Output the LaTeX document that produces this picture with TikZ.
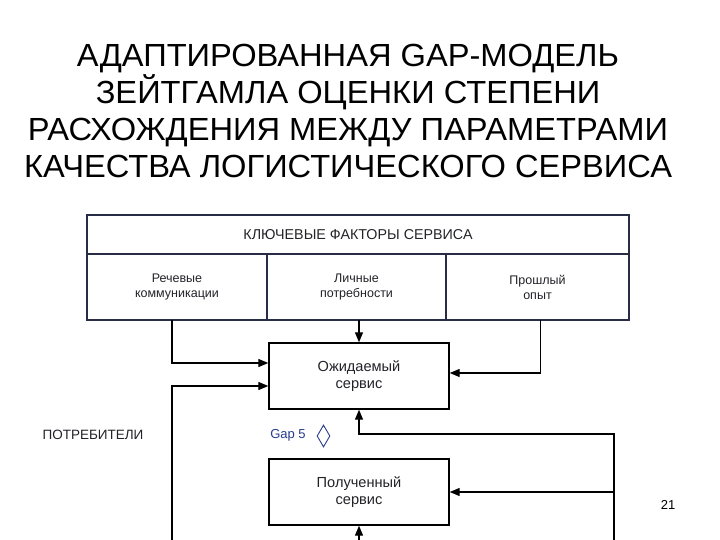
\documentclass[tikz,border=0pt]{standalone}
\usepackage{fontspec}
\setmainfont{Liberation Sans}
\newfontfamily\titlefont[FakeStretch=1.02]{Liberation Sans}
\usetikzlibrary{positioning,calc,arrows.meta,shapes.geometric}
\definecolor{inkgray}{RGB}{34,34,40}
\definecolor{tableblue}{RGB}{40,44,70}
\definecolor{gapblue}{RGB}{40,60,140}

\begin{document}
\begin{tikzpicture}[
            x=1pt, y=-1pt,
            every node/.style={text=inkgray},
            hdr/.style={rectangle, draw=tableblue, line width=1.2pt, minimum width=542pt,
                        minimum height=39pt, inner sep=0pt, outer sep=0pt,
                        font=\fontsize{14.3}{16}\selectfont},
            cell/.style={rectangle, draw=tableblue, line width=1.2pt, minimum height=66pt,
                         inner sep=0pt, outer sep=0pt, align=center,
                         font=\fontsize{12.5}{15}\selectfont},
            box/.style={rectangle, draw=black, line width=1.4pt, minimum width=180pt,
                        minimum height=66pt, inner sep=0pt, align=center,
                        font=\fontsize{14.6}{17}\selectfont},
            arrow/.style={-{Triangle[length=10pt,width=8pt]}, line width=1.3pt, draw=black}
        ]
            \useasboundingbox (0,0) rectangle (720,540);

            % Title
            \node[text=black, align=center, font=\titlefont\fontsize{32}{37}\selectfont]
                (title) at (348,110.5) {АДАПТИРОВАННАЯ GAP-МОДЕЛЬ\\ЗЕЙТГАМЛА ОЦЕНКИ СТЕПЕНИ\\
                РАСХОЖДЕНИЯ МЕЖДУ ПАРАМЕТРАМИ\\КАЧЕСТВА ЛОГИСТИЧЕСКОГО СЕРВИСА};

            % Key factors table
            \node[hdr] (factors) at (358,234.5) {КЛЮЧЕВЫЕ ФАКТОРЫ СЕРВИСА};
            \node[cell, minimum width=180pt, anchor=north west] (speech)
                at (factors.south west) {Речевые\\коммуникации};
            \node[cell, minimum width=179pt, anchor=north west] (needs)
                at (speech.north east) {Личные\\потребности};
            \node[cell, minimum width=183pt, anchor=north west] (past)
                at (needs.north east) {Прошлый\\опыт};

            % Service boxes
            \node[box] (expected) at (359,376) {Ожидаемый\\сервис};
            \node[box] (received) at (359,492) {Полученный\\сервис};

            % Gap 5 and consumers
            \node[text=gapblue, font=\fontsize{13}{15}\selectfont] (gap) at (288,435) {Gap 5};
            \node[diamond, draw=gapblue, line width=0.9pt, fill=white, inner sep=0pt,
                  minimum width=13pt, minimum height=22pt] (gapmark) at (323.5,436) {};
            \node[font=\fontsize{13.5}{15}\selectfont] (consumers) at (93,435) {ПОТРЕБИТЕЛИ};
            \node[text=black, font=\fontsize{13}{15}\selectfont] (page) at (668,505) {21};

            % Free ends below the picture
            \coordinate (wordofmouth) at (172,541);
            \coordinate (delivery) at (359,541);
            \coordinate (perception) at (614,541);
            \coordinate (turn) at (614,434);

            % Arrows into the boxes
            \draw[arrow] (speech.south -| wordofmouth) |- ([yshift=13pt]expected.west);
            \draw[arrow] (wordofmouth) |- ([yshift=-10pt]expected.west);
            \draw[arrow] (needs.south -| expected.north) -- (expected.north);
            \draw[arrow] ([xshift=3pt]past.south) |- ([yshift=3pt]expected.east);
            \draw[arrow] (perception) -- (turn) -| (expected.south);
            \draw[arrow] (turn |- received.east) -- (received.east);
            \draw[arrow] (delivery) -- (received.south);
        \end{tikzpicture}
\end{document}
